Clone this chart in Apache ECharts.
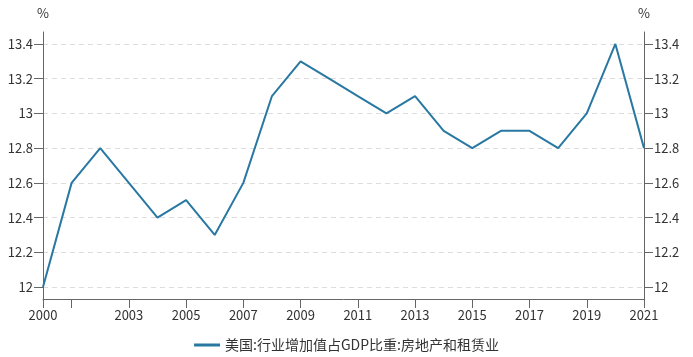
<!DOCTYPE html>
<html><head><meta charset="utf-8">
<script src="https://cdn.jsdelivr.net/npm/echarts@6/dist/echarts.min.js"></script>
<style>html,body{margin:0;padding:0;background:#fff}#c{width:693px;height:357px}</style>
</head><body><div id="c"></div>
<script>
const years = ['2000','2001','2002','2003','2004','2005','2006','2007','2008','2009','2010','2011','2012','2013','2014','2015','2016','2017','2018','2019','2020','2021'];
const values = [12.0,12.6,12.8,12.6,12.4,12.5,12.3,12.6,13.1,13.3,13.2,13.1,13.0,13.1,12.9,12.8,12.9,12.9,12.8,13.0,13.4,12.8];
const yTicks = [12,12.2,12.4,12.6,12.8,13,13.2,13.4];
const seriesName = '美国:行业增加值占GDP比重:房地产和租赁业';

const font = '"Noto Sans CJK SC", "Noto Sans", sans-serif';
const chart = echarts.init(document.getElementById('c'));
const yAxisCommon = {
  type: 'value', min: 11.931, max: 13.469,
  name: '%', nameGap: 12,
  nameTextStyle: {color: '#333', fontSize: 13, fontFamily: font},
  axisLine: {show: true, lineStyle: {color: '#666'}},
  axisTick: {show: true, length: 9, customValues: yTicks, lineStyle: {color: '#666'}},
  axisLabel: {color: '#333', fontSize: 13, fontFamily: font, margin: 10, customValues: yTicks,
    formatter: v => String(Math.round(v*10)/10)},
  splitLine: {show: true, lineStyle: {color: '#ddd', type: [5, 4]}}
};
chart.setOption({
  animation: false,
  grid: {left: 43, right: 49, top: 32, bottom: 58, containLabel: false},
  legend: {bottom: 0, left: 'center', itemWidth: 26, itemHeight: 3, itemGap: 10,
    icon: 'rect',
    textStyle: {color: '#333', fontSize: 14, fontFamily: font},
    data: [seriesName]},
  xAxis: {
    type: 'category', data: years, boundaryGap: false,
    axisLine: {lineStyle: {color: '#666'}},
    axisTick: {length: 9, lineStyle: {color: '#666'},
      interval: (i, v) => i === 0 || (+v) % 2 === 1},
    axisLabel: {color: '#333', fontSize: 13, fontFamily: font, margin: 10, showMinLabel: true, showMaxLabel: true,
      interval: (i, v) => i === 0 || ((+v) % 2 === 1 && v !== '2001')},
    splitLine: {show: false}
  },
  yAxis: [
    Object.assign({position: 'left'}, yAxisCommon),
    Object.assign({position: 'right'}, yAxisCommon, {splitLine: {show: false}})
  ],
  series: [{
    name: seriesName, type: 'line', data: values, yAxisIndex: 0,
    showSymbol: false, symbol: 'none',
    lineStyle: {color: '#2878a2', width: 2},
    itemStyle: {color: '#2878a2'}
  }]
});
</script></body></html>
